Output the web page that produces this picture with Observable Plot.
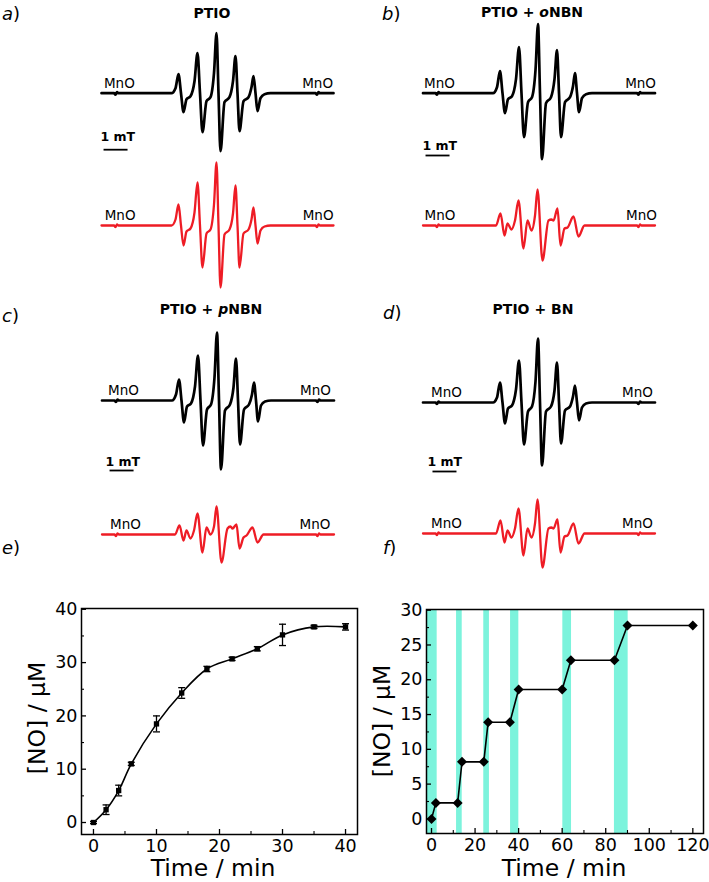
<!DOCTYPE html>
<html><head><meta charset="utf-8">
<script src="https://cdn.jsdelivr.net/npm/d3@7"></script>
<script src="https://cdn.jsdelivr.net/npm/@observablehq/plot@0.6"></script>
<style>
body{margin:0;background:#fff;}
#fig{position:relative;width:709px;height:882px;overflow:hidden;font-family:"DejaVu Sans",sans-serif;color:#000;background:#fff;}
.box{position:absolute;}
.t{position:absolute;line-height:1;white-space:nowrap;font-family:"DejaVu Sans",sans-serif;}
</style></head><body><div id="fig"></div>
<script>
// ---------- EPR spectra (field offset in mT, intensity in a.u.) ----------
const fieldBlack = [-4.875,-4.354,-4.292,-4.229,-4.167,-1.958,-1.792,-1.667,-1.5625,-1.458,-1.333,-1.167,-1.0,-0.875,-0.771,-0.667,-0.5,-0.333,-0.1875,-0.083,0,0.083,0.25,0.458,0.604,0.708,0.792,0.875,1.042,1.25,1.375,1.458,1.542,1.625,1.75,1.917,2.167,4.042,4.104,4.167,4.229,4.792];
const blackA = [0,0,-1.5,1,0,0,5,19,0,-19,-6,-3,12,40,0,-39,-8,-4,20,60,0,-58,-9,-4,12,37,0,-38,-8,-4,6,17,0,-18,-5,-1,0,0,-1.5,1,0,0];
const blackB = [0,0,-1.5,1,0,0,6,22,0,-20,-6,-3,14,46,0,-44,-9,-4,23,69,0,-66,-10,-4,14,43,0,-44,-9,-4,7,20,0,-19,-5,-1,0,0,-1.5,1,0,0];
const blackC = [0,0,-1.5,1,0,0,6,21,0,-22,-6,-3,14,45,0,-45,-9,-4,23,68,0,-69,-10,-4,13,42,0,-44,-9,-4,6,18,0,-21,-5,-1,0,0,-1.5,1,0,0];
const blackD = [0,0,-1.5,1,0,0,5,20,0,-21,-6,-3,13,42,0,-42,-9,-4,21,64,0,-63,-9,-4,12,40,0,-41,-8,-4,6,17,0,-18,-5,-1,0,0,-1.5,1,0,0];
const redA   = [0,0,-1.5,1,0,0,6,21,0,-20,-6,-3,13,43,0,-42,-8,-4,21,63,0,-62,-9,-4,12,40,0,-42,-8,-4,6,18,0,-18,-5,-1,0,0,-1.5,1,0,0];

const fieldRed = [-4.875,-4.354,-4.292,-4.229,-4.167,-1.833,-1.646,-1.479,-1.354,-1.188,-1.042,-0.896,-0.688,-0.521,-0.354,-0.208,-0.104,0.104,0.354,0.479,0.563,0.729,0.854,1.021,1.146,1.396,1.604,1.854,4.042,4.104,4.167,4.229,4.792];
const redB = [0,0,-1.5,1,0,0,12,-10,2,-4,5,25,-23,5,-5,10,36,-35,5,6,5,17,-20,-3,-2,9,-11,0,0,-1.5,1,0,0];
const redC = [0,0,-1.5,1,0,0,9,-6,4,-4,4,21,-18,7,0,8,28,-28,6,8,6,10,-14,-3,-1,7,-8,0,0,-1.5,1,0,0];
const redD = [0,0,-1.5,1,0,0,13,-9,3,-4,5,25,-22,5,-4,10,34,-34,5,6,5,14,-19,-3,-2,10,-10,0,0,-1.5,1,0,0];

const titles = ["PTIO", "PTIO + <i>o</i>NBN", "PTIO + <i>p</i>NBN", "PTIO + BN"];
const panelLetters = ["a", "b", "c", "d", "e", "f"];

// ---------- e) NO release kinetics ----------
const eTime = [0,2,4,6,10,14,18,22,26,30,35,40];
const eNO   = [0,2.4,6.0,11.0,18.5,24.3,28.8,30.7,32.6,35.2,36.7,36.7];
const eErr  = [0.2,0.9,1.0,0.3,1.5,1.0,0.5,0.3,0.4,2.0,0.3,0.6];
const eXTicks = [0,10,20,30,40], eXMinor = [5,15,25,35];
const eYTicks = [0,10,20,30,40], eYMinor = [5,15,25,35];

// ---------- f) on/off irradiation ----------
const fTime = [0,2,12,14,24,26,36,40,60,64,84,90,120];
const fNO   = [0,2.3,2.3,8.2,8.2,13.9,13.9,18.6,18.6,22.8,22.8,27.8,27.8];
const fOnStart = [-2.3,11.5,24.0,36.3,60.3,84.0];
const fOnEnd   = [2.6,14.1,26.6,40.1,64.3,90.3];
const fXTicks = [0,20,40,60,80,100,120], fXMinor = [10,30,50,70,90,110];
const fYTicks = [0,5,10,15,20,25,30], fYMinor = [2.5,7.5,12.5,17.5,22.5,27.5];

const fig = document.getElementById("fig");
function place(node, left, top, width) {
  const d = document.createElement("div");
  d.className = "box"; d.style.left = left + "px"; d.style.top = top + "px"; d.style.width = width + "px";
  d.appendChild(node); fig.appendChild(d);
}
function addText(html, {x, baseline, size, weight = "normal", anchor = "start", rotate = false}) {
  const el = document.createElement("div");
  el.className = "t"; el.innerHTML = html;
  el.style.fontSize = size + "px"; el.style.fontWeight = weight;
  if (rotate) {
    el.style.left = x + "px"; el.style.top = baseline + "px";
    el.style.transform = "translate(-50%,-50%) rotate(-90deg)";
  } else {
    el.style.left = x + "px"; el.style.top = (baseline - 0.846 * size) + "px";
    if (anchor === "middle") el.style.transform = "translateX(-50%)";
  }
  fig.appendChild(el);
}

const PX_PER_MT = 24;
const RED = "#EE1C25";
const panels = [
  {left:0,   top:0,   width:355, height:300, cx:218,   base:92.7, baseRed:225, black:blackA, red:redA, redField:fieldBlack, mno:[-4.13,4.13], mnoRed:[-4.1,4.15], barText:-4.92, barX:-4.79, barTextY:-47.5, barY:-56.5},
  {left:355, top:0,   width:354, height:300, cx:184.5, base:92.7, baseRed:225, black:blackB, red:redB, redField:fieldRed,   mno:[-4.19,4.19], mnoRed:[-4.17,4.23], barText:-4.9, barX:-4.77, barTextY:-56.5, barY:-62.3},
  {left:0,   top:300, width:355, height:275, cx:218.5, base:100,  baseRed:234, black:blackC, red:redC, redField:fieldRed,   mno:[-3.98,4.02], mnoRed:[-3.9,4.0],  barText:-4.73, barX:-4.56, barTextY:-65, barY:-70},
  {left:355, top:300, width:354, height:275, cx:184.5, base:102,  baseRed:233, black:blackD, red:redD, redField:fieldRed,   mno:[-3.9,4.06],  mnoRed:[-3.9,4.06], barText:-4.69, barX:-4.48, barTextY:-63, barY:-69}
];

const capSymbol = {draw(ctx) { ctx.moveTo(-3.5, 0); ctx.lineTo(3.5, 0); }};

panels.forEach(p => {
  const redOffset = p.base - p.baseRed;
  const blackData = fieldBlack.map((f, i) => ({f, v: p.black[i]}));
  const redData = p.redField.map((f, i) => ({f, v: p.red[i] + redOffset}));
  const mnoLabels = [
    {f: p.mno[0], v: 0}, {f: p.mno[1], v: 0},
    {f: p.mnoRed[0], v: redOffset}, {f: p.mnoRed[1], v: redOffset}
  ];
  const chart = Plot.plot({
    width: p.width, height: p.height, margin: 0,
    x: {domain: [-p.cx / PX_PER_MT, (p.width - p.cx) / PX_PER_MT], axis: null},
    y: {domain: [p.base - p.height, p.base], axis: null},
    style: {fontFamily: "DejaVu Sans", background: "transparent", overflow: "visible", color: "#000"},
    marks: [
      Plot.line(blackData, {x: "f", y: "v", curve: "monotone-x", stroke: "#000", strokeWidth: 2.7, strokeLinejoin: "round"}),
      Plot.line(redData, {x: "f", y: "v", curve: "monotone-x", stroke: RED, strokeWidth: 2.3, strokeLinejoin: "round"}),
      Plot.text(mnoLabels, {x: "f", y: "v", text: () => "MnO", dy: -5.5, lineAnchor: "bottom", fontSize: 13.5, fill: "#000"}),
      Plot.link([{x1: p.barX, x2: p.barX + 1, y: p.barY}], {x1: "x1", x2: "x2", y1: "y", y2: "y", stroke: "#000", strokeWidth: 1.8}),
      Plot.text([{x: p.barText, y: p.barTextY}], {x: "x", y: "y", text: () => "1 mT", textAnchor: "start", lineAnchor: "bottom", fontSize: 12.5, fontWeight: "bold", fill: "#000"})
    ]
  });
  place(chart, p.left, p.top, p.width);
});

// ---------- e plot ----------
const eRows = eTime.map((t, i) => ({t, no: eNO[i], err: eErr[i]}));
const eW = 362, eH = 322, eML = 81, eMR = 5, eMT = 48, eMB = 48;
const ePW = eW - eML - eMR, ePH = eH - eMT - eMB;
const ePlot = Plot.plot({
  width: eW, height: eH, marginLeft: eML, marginRight: eMR, marginTop: eMT, marginBottom: eMB,
  x: {domain: [-1.9, 41.9]}, y: {domain: [-2.25, 40.15]},
  style: {fontFamily: "DejaVu Sans", fontSize: "17px", background: "transparent", color: "#000", overflow: "visible"},
  marks: [
    Plot.ruleX(eXTicks, {stroke: "#000", strokeWidth: 1.3, insetTop: ePH - 5}),
    Plot.ruleX(eXMinor, {stroke: "#000", strokeWidth: 1.1, insetTop: ePH - 3}),
    Plot.ruleY(eYTicks, {stroke: "#000", strokeWidth: 1.3, insetRight: ePW - 5}),
    Plot.ruleY(eYMinor, {stroke: "#000", strokeWidth: 1.1, insetRight: ePW - 3}),
    Plot.axisX({ticks: eXTicks, tickSize: 0, tickPadding: 5, label: null, fontSize: 17.5}),
    Plot.axisY({ticks: eYTicks, tickSize: 0, tickPadding: 4, label: null, fontSize: 17.5}),
    Plot.line(eRows, {x: "t", y: "no", curve: "catmull-rom", stroke: "#000", strokeWidth: 1.6}),
    Plot.ruleX(eRows, {x: "t", y1: d => d.no - d.err, y2: d => d.no + d.err, stroke: "#000", strokeWidth: 1.3}),
    Plot.dot(eRows, {x: "t", y: d => d.no + d.err, symbol: capSymbol, fill: "none", stroke: "#000", strokeWidth: 1.3}),
    Plot.dot(eRows, {x: "t", y: d => d.no - d.err, symbol: capSymbol, fill: "none", stroke: "#000", strokeWidth: 1.3}),
    Plot.dot(eRows, {x: "t", y: "no", symbol: "square", r: 3, fill: "#000", stroke: "none"}),
    Plot.frame({stroke: "#000", strokeWidth: 1.5})
  ]
});
place(ePlot, 0, 560, eW);

// ---------- f plot ----------
const fRows = fTime.map((t, i) => ({t, no: fNO[i]}));
const fBands = fOnStart.map((s, i) => ({s, e: fOnEnd[i]}));
const fW = 347, fH = 322, fML = 64, fMR = 6, fMT = 49, fMB = 49;
const fPW = fW - fML - fMR, fPH = fH - fMT - fMB;
const fYDom = [-2.1, 30.1];
const fPlot = Plot.plot({
  width: fW, height: fH, marginLeft: fML, marginRight: fMR, marginTop: fMT, marginBottom: fMB,
  x: {domain: [-2.3, 124.9]}, y: {domain: fYDom},
  style: {fontFamily: "DejaVu Sans", fontSize: "17px", background: "transparent", color: "#000", overflow: "visible"},
  marks: [
    Plot.rect(fBands, {x1: "s", x2: "e", y1: () => fYDom[0], y2: () => fYDom[1], fill: "#7CF3DC"}),
    Plot.ruleX(fXTicks, {stroke: "#000", strokeWidth: 1.3, insetTop: fPH - 5}),
    Plot.ruleX(fXMinor, {stroke: "#000", strokeWidth: 1.1, insetTop: fPH - 3}),
    Plot.ruleY(fYTicks, {stroke: "#000", strokeWidth: 1.3, insetRight: fPW - 5}),
    Plot.ruleY(fYMinor, {stroke: "#000", strokeWidth: 1.1, insetRight: fPW - 3}),
    Plot.axisX({ticks: fXTicks, tickSize: 0, tickPadding: 5, label: null, fontSize: 17.5}),
    Plot.axisY({ticks: fYTicks, tickSize: 0, tickPadding: 4, label: null, fontSize: 17.5}),
    Plot.line(fRows, {x: "t", y: "no", stroke: "#000", strokeWidth: 1.6}),
    Plot.dot(fRows, {x: "t", y: "no", symbol: "diamond2", r: 4.5, fill: "#000", stroke: "none"}),
    Plot.frame({stroke: "#000", strokeWidth: 1.5})
  ]
});
place(fPlot, 362, 560, fW);

// ---------- annotations ----------
const letterPos = [[2, 20], [382, 20], [2, 322], [383, 319], [2, 554], [383, 554]];
panelLetters.forEach((l, i) => addText(`<i>${l}</i>)`, {x: letterPos[i][0], baseline: letterPos[i][1], size: 18}));
const titlePos = [[212, 18], [532, 17], [211, 314], [533, 314]];
titles.forEach((t, i) => addText(t, {x: titlePos[i][0], baseline: titlePos[i][1], size: 14, weight: "bold", anchor: "middle"}));
addText("Time / min", {x: 213, baseline: 877, size: 23.5, anchor: "middle"});
addText("Time / min", {x: 564, baseline: 877, size: 23.5, anchor: "middle"});
addText("[NO] / μM", {x: 38, baseline: 718, size: 23.5, rotate: true});
addText("[NO] / μM", {x: 383, baseline: 721, size: 23.5, rotate: true});
</script></body></html>
